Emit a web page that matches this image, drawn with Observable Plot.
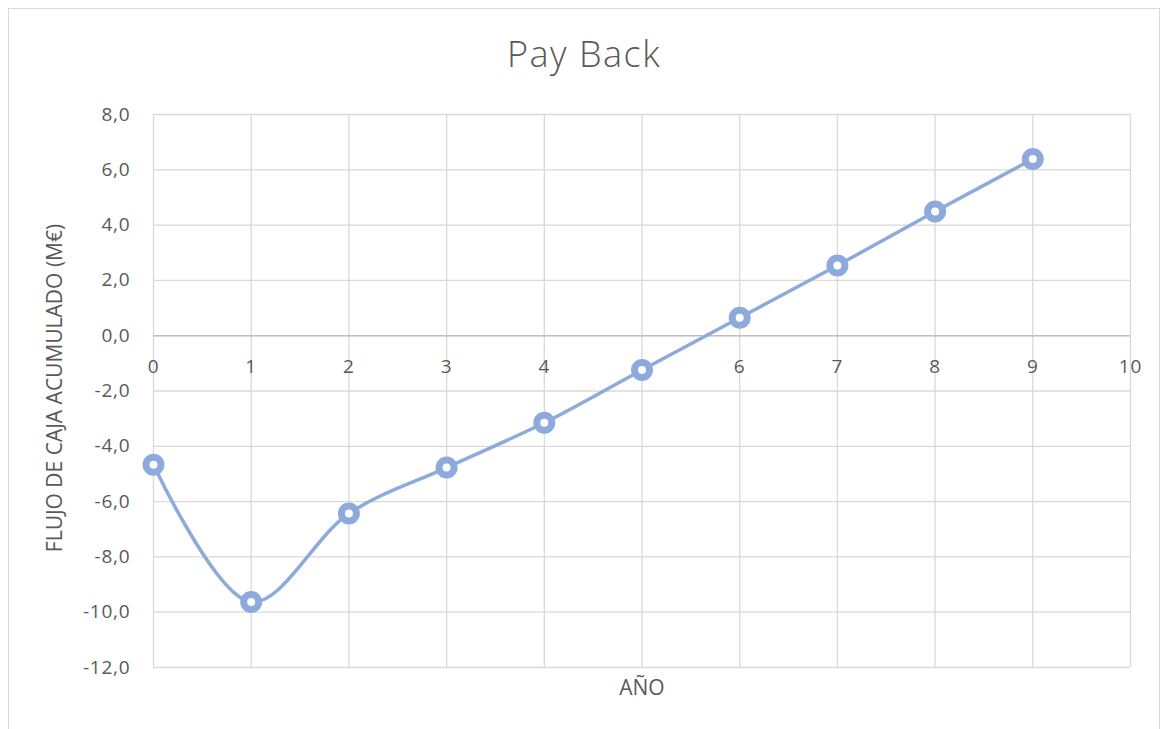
<!DOCTYPE html>
<html>
<head>
<meta charset="utf-8">
<script src="https://cdn.jsdelivr.net/npm/d3@7"></script>
<script src="https://cdn.jsdelivr.net/npm/@observablehq/plot@0.6"></script>
<style>
  html, body { margin: 0; padding: 0; background: #fff; }
  #wrap { position: relative; width: 1168px; height: 729px; overflow: hidden; font-family: "Open Sans", Lato, sans-serif; }
  #border { position: absolute; left: 8px; top: 8px; width: 1152px; height: 730px; border: 1px solid #d9d9d9; box-sizing: border-box; }
  #title { position: absolute; left: 0; top: 0; width: 1168px; height: 90px; text-align: center; line-height: 108px; font-size: 36px; font-weight: 300; letter-spacing: 1.5px; color: #595959; }
  #chart { position: absolute; left: 0; top: 90px; }
  #chart svg .tick-label text { letter-spacing: 0.8px; }
</style>
</head>
<body>
<div id="wrap">
  <div id="border"></div>
  <div id="title">Pay Back</div>
  <div id="chart"></div>
</div>
<script>
const years = [0, 1, 2, 3, 4, 5, 6, 7, 8, 9];
const cumulativeFlow = [-4.67, -9.63, -6.43, -4.77, -3.15, -1.24, 0.65, 2.54, 4.49, 6.39];
const xTicks = [0, 1, 2, 3, 4, 5, 6, 7, 8, 9, 10];
const yTicks = [-12, -10, -8, -6, -4, -2, 0, 2, 4, 6, 8];
const xTitle = "AÑO";
const yTitle = "FLUJO DE CAJA ACUMULADO (M€)";

const data = years.map((y, i) => ({year: y, value: cumulativeFlow[i]}));
const fmt = d => d.toFixed(1).replace(".", ",");
const color = "#8eaadc";
const textColor = "#595959";

const plot = Plot.plot({
  width: 1168,
  height: 639,
  marginLeft: 153,
  marginRight: 38,
  marginTop: 24,
  marginBottom: 62,
  style: {fontFamily: "'Open Sans', Lato, sans-serif", fontSize: "19px", color: textColor, background: "transparent"},
  x: {domain: [0, 10], axis: null},
  y: {domain: [-12, 8], axis: null},
  marks: [
    Plot.gridX(xTicks, {stroke: "#d9d9d9", strokeOpacity: 1, strokeWidth: 1.3}),
    Plot.gridY(yTicks, {stroke: "#d9d9d9", strokeOpacity: 1, strokeWidth: 1.3}),
    Plot.ruleY([0], {stroke: "#bfbfbf", strokeWidth: 1.5}),
    Plot.axisY(yTicks, {tickSize: 0, tickPadding: 23, tickFormat: fmt, fill: textColor, fontSize: 19, label: null, className: "tick-label"}),
    Plot.text(xTicks, {x: d => d, y: 0, dy: 31, text: d => String(d), fill: textColor, fontSize: 19, textAnchor: "middle", lineAnchor: "middle", className: "tick-label"}),
    Plot.text([yTitle], {frameAnchor: "left", rotate: -90, dx: -98, dy: -3, fill: textColor, fontSize: 21, textAnchor: "middle", lineAnchor: "middle"}),
    Plot.text([xTitle], {frameAnchor: "bottom", dy: 21, fill: textColor, fontSize: 21, lineAnchor: "middle"}),
    Plot.line(data, {x: "year", y: "value", stroke: color, strokeWidth: 3.5, curve: "catmull-rom"}),
    Plot.dot(data, {x: "year", y: "value", r: 7.5, stroke: color, strokeWidth: 7, fill: "white"})
  ]
});
document.getElementById("chart").appendChild(plot);
</script>
</body>
</html>
